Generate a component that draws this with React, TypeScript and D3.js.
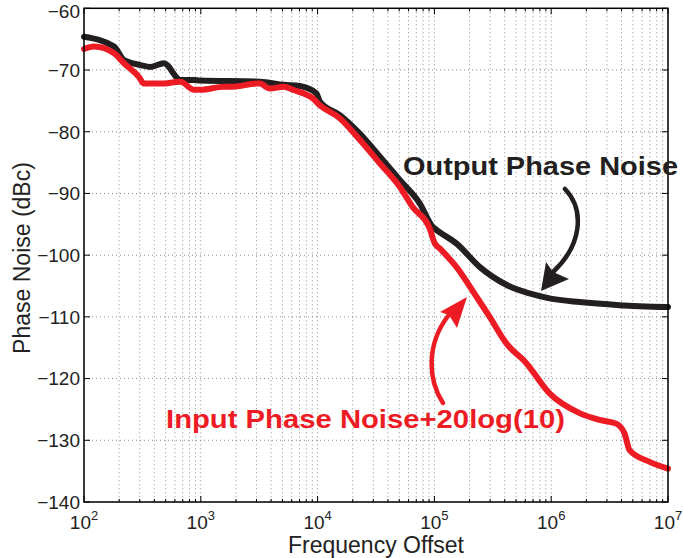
import React from "react";
import * as d3 from "d3";

const outFreq = [100, 181, 220, 305, 372, 483, 671, 873, 982, 3206, 5140, 7047, 9795, 10447, 15488, 22961, 34041, 50466, 74817, 96605, 103992, 154170, 243781, 413048, 653130, 968278, 1749847, 3845918, 10000000];
const outDbc = [-64.6, -66.2, -68.4, -69.2, -69.5, -68.9, -71.6, -71.6, -71.7, -71.9, -72.4, -72.6, -73.8, -75.1, -77.3, -80.3, -84.0, -87.8, -91.6, -95.4, -95.9, -98.1, -101.9, -104.8, -106.2, -107.0, -107.6, -108.1, -108.4];

const inFreq = [100, 122, 181, 220, 295, 326, 453, 671, 873, 995, 1578, 1884, 3020, 3206, 3899, 5140, 6138, 9099, 10447, 15488, 22961, 34041, 50466, 65163, 91201, 100693, 110917, 154170, 228560, 297167, 413048, 612350, 968278, 1749847, 2594179, 3605822, 4246196, 4688134, 6950243, 10000000];
const inDbc = [-66.6, -66.2, -67.3, -68.9, -71.1, -72.2, -72.2, -71.9, -73.2, -73.2, -72.7, -72.7, -72.2, -72.2, -73.0, -72.7, -73.2, -74.6, -75.7, -77.8, -81.3, -85.1, -88.9, -92.2, -95.7, -98.1, -98.9, -101.9, -106.7, -110.0, -114.3, -117.5, -122.4, -125.6, -126.7, -127.3, -128.9, -131.6, -133.5, -134.6];

const yTicks = [-60, -70, -80, -90, -100, -110, -120, -130, -140];
const xDecades = [2, 3, 4, 5, 6, 7];

const RED = "#ED1C24";
const BLACK = "#231F20";

export default function App() {
  const W = 683, H = 558;
  const L = 84, R = 668, T = 8.3, B = 502;
  const x = d3.scaleLog().domain([1e2, 1e7]).range([L, R]);
  const y = d3.scaleLinear().domain([-140, -60]).range([B, T]);

  const line = d3.line<[number, number]>().x(d => x(d[0])).y(d => y(d[1])).curve(d3.curveMonotoneX);
  const outPts = outFreq.map((f, i) => [f, outDbc[i]] as [number, number]);
  const inPts = inFreq.map((f, i) => [f, inDbc[i]] as [number, number]);

  const minor: number[] = [];
  for (let e = 2; e < 7; e++) for (let m = 1; m <= 9; m++) minor.push(m * Math.pow(10, e));
  minor.push(1e7);

  const font = "'Liberation Sans', Arial, Helvetica, sans-serif";

  return (
    <svg width={W} height={H} style={{ position: "absolute", left: 0, top: 0, background: "#fff" }} fontFamily={font}>
      <rect x={0} y={0} width={W} height={H} fill="#fff" />
      {/* grid */}
      <g stroke="#8a8a8a" strokeWidth={1} strokeDasharray="1,3">
        {minor.map((f, i) => (
          <line key={"gx" + i} x1={x(f)} x2={x(f)} y1={T} y2={B} />
        ))}
        {yTicks.map((v, i) => (
          <line key={"gy" + i} x1={L} x2={R} y1={y(v)} y2={y(v)} />
        ))}
      </g>
      {/* ticks */}
      <g stroke="#000" strokeWidth={1}>
        {minor.map((f, i) => {
          const major = Math.abs(Math.log10(f) - Math.round(Math.log10(f))) < 1e-9;
          const len = major ? 6 : 3;
          return (
            <g key={"tx" + i}>
              <line x1={x(f)} x2={x(f)} y1={B} y2={B - len} />
              <line x1={x(f)} x2={x(f)} y1={T} y2={T + len} />
            </g>
          );
        })}
        {yTicks.map((v, i) => (
          <g key={"ty" + i}>
            <line x1={L} x2={L + 6} y1={y(v)} y2={y(v)} />
            <line x1={R} x2={R - 6} y1={y(v)} y2={y(v)} />
          </g>
        ))}
      </g>
      {/* curves */}
      <path d={line(outPts) || ""} fill="none" stroke={BLACK} strokeWidth={6} strokeLinejoin="round" strokeLinecap="round" />
      <path d={line(inPts) || ""} fill="none" stroke={RED} strokeWidth={6} strokeLinejoin="round" strokeLinecap="round" />
      {/* box */}
      <rect x={L} y={T} width={R - L} height={B - T} fill="none" stroke="#000" strokeWidth={1.5} />
      {/* y tick labels */}
      <g fontSize={19} fill="#222" textAnchor="end">
        {yTicks.map((v, i) => (
          <text key={"yl" + i} x={L - 4} y={Math.max(y(v) + 6.8, 17.6)}>{"\u2212" + Math.abs(v)}</text>
        ))}
      </g>
      {/* x tick labels */}
      <g fill="#222">
        {xDecades.map((e, i) => (
          <text key={"xl" + i} x={x(Math.pow(10, e))} y={529} textAnchor="middle" fontSize={19}>
            10<tspan fontSize={13} dy={-9}>{e}</tspan>
          </text>
        ))}
      </g>
      {/* axis titles */}
      <text x={376} y={553} textAnchor="middle" fontSize={23} fill="#222">Frequency Offset</text>
      <text transform="translate(30,258) rotate(-90)" textAnchor="middle" fontSize={23} fill="#222">Phase Noise (dBc)</text>
      {/* annotations */}
      <text x={403} y={175} fontSize={26} fontWeight="bold" fill={BLACK} textLength={275} lengthAdjust="spacingAndGlyphs">Output Phase Noise</text>
      <text x={166} y={428} fontSize={26.5} fontWeight="bold" fill={RED} textLength={399} lengthAdjust="spacingAndGlyphs">Input Phase Noise+20log(10)</text>
      {/* black arrow */}
      <path d="M565,189 C585,210 582,245 553,272" fill="none" stroke={BLACK} strokeWidth={4.5} strokeLinecap="round" />
      <path d="M541,291 L546,262 L553,272 L569,279 Z" fill={BLACK} />
      {/* red arrow */}
      <path d="M443,403 C428,380 426,345 448,316" fill="none" stroke={RED} strokeWidth={4.5} strokeLinecap="round" />
      <path d="M467,297 L440,312 L449,315 L457,328 Z" fill={RED} />
    </svg>
  );
}
